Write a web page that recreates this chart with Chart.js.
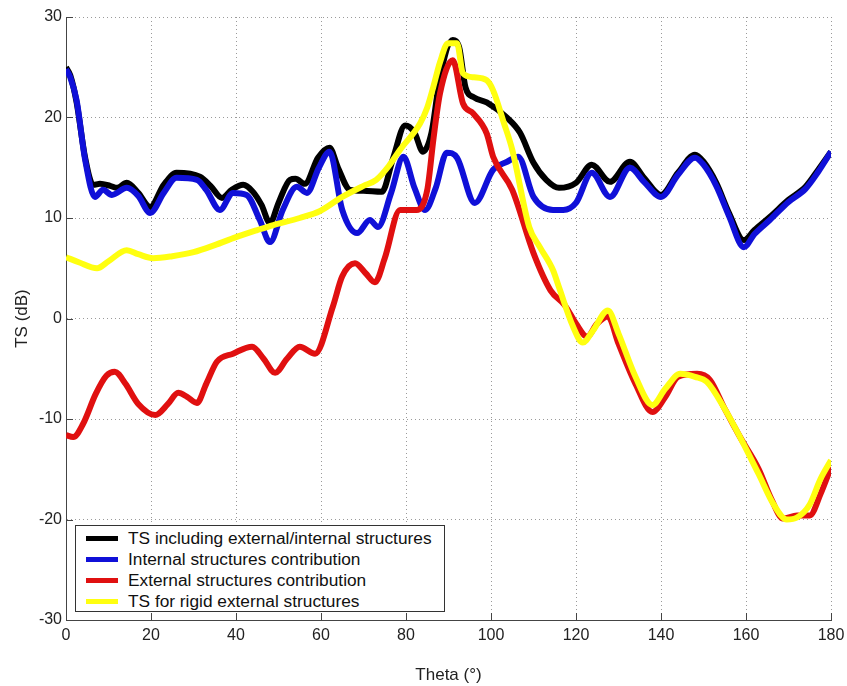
<!DOCTYPE html>
<html>
<head>
<meta charset="utf-8">
<script src="https://cdn.jsdelivr.net/npm/chart.js@4/dist/chart.umd.min.js"></script>
<style>
  html, body { margin: 0; padding: 0; background: #fff; }
  #wrap { position: relative; width: 847px; height: 686px; }
  #legend {
    position: absolute; left: 75px; top: 525px; width: 370px; height: 87px;
    border: 1px solid #333; background: #fff; box-sizing: border-box;
    padding-top: 2px; font-family: "Liberation Sans", Arial, sans-serif; font-size: 17.3px; color: #111;
  }
  .row { position: relative; height: 21px; line-height: 21px; padding-left: 52px; white-space: nowrap; }
  .sw { position: absolute; left: 10px; top: 8px; width: 32px; height: 5px; }
</style>
</head>
<body>
<div id="wrap">
  <canvas id="c" width="847" height="686"></canvas>
  <div id="legend"></div>
</div>
<script>
// ---- Data ----
const seriesNames = [
  "TS including external/internal structures",
  "Internal structures contribution",
  "External structures contribution",
  "TS for rigid external structures"
];
const seriesColors = ["#000000", "#1010d8", "#e01010", "#ffff10"];

const blackTheta = [0,1,2.5,4.5,6.4,8,10.4,12,14.3,17,19.8,23,26,31.5,34,36.7,39,41.7,44,46,48,50,52.7,54,56.2,59.3,62,64,66.8,70,74.3,77,79.8,82,84,86,88,91,92.5,94,96,99,103.7,106.8,110,113,116,120,123.7,128,132.7,136,140,144,148,150,153,156,159.5,162,165.6,170,174,177,180];
const blackTS    = [25,24.2,21.5,16,13.3,13.4,13.2,13.0,13.5,12.5,11.1,13.3,14.5,14.1,13.2,12.0,12.8,13.3,12.6,11.3,9.5,11.5,13.8,13.9,13.4,16.0,17.0,15,12.8,12.7,12.6,16,19.2,18.5,16.6,18.5,24,27.7,27,23,22,21.5,20,18.5,15.5,13.8,13.0,13.5,15.3,13.6,15.6,14,12.3,14.5,16.3,15.6,13.5,10.5,7.8,8.8,10.1,11.8,13.1,14.8,16.6];

const blueTheta = [0,1,2.5,4.5,6.8,8.7,10.8,14.3,17,19.8,23,26,30.8,33,36.2,39.3,42.5,45.6,48,51,54.3,56.7,59.5,62,65,68.5,71.5,73.4,76.5,79.4,82,84.5,87,89.6,92,96.2,100.5,103.8,106.4,110,114.6,117,120,123.7,128,132.7,136,140,144,148,150,153,156,159.5,162,165.6,170,174,177,180];
const blueTS    = [24.8,24,21.7,15.8,12.1,12.8,12.3,13.0,12.2,10.5,12.5,14.0,13.8,12.8,10.8,12.5,12.3,9.8,7.6,10.8,13.1,12.5,15,16.6,10.8,8.5,9.8,9.1,12.5,16.1,13,10.8,13,16.5,16,11.5,14.8,15.6,16.1,12.1,10.8,10.8,11.5,14.5,12.1,15.0,13.6,12.1,14.3,16.0,15.3,13.2,10.2,7.1,8.4,9.8,11.6,12.9,14.6,16.6];

const redTheta = [0,1.7,4,7,9.5,11.5,14,17,21,24,26.4,28.5,30.8,33,35.5,39.3,43.8,46.5,49.2,52,55,58.6,62.8,65,68,70.5,72.7,75,78.6,82.5,85,86.5,88,91,93.4,95.8,99,100.5,105,110,114,117.4,120,122.6,125,127.5,130,134,138,141,144,148.5,151.5,155,158.6,163,166,168.7,172,175,177.5,180];
const redTS    = [-11.6,-11.8,-10.5,-7.5,-5.7,-5.3,-6.5,-8.5,-9.6,-8.5,-7.4,-7.8,-8.4,-6.5,-4.3,-3.5,-2.8,-4,-5.4,-4,-2.8,-3.5,1.2,4.2,5.5,4.5,3.6,6,10.8,10.8,12.8,18,22.4,25.7,21.4,20.4,18.4,16.1,12.8,6.5,2.8,1.3,-0.5,-1.8,-0.5,0.2,-2.5,-6.5,-9.3,-7.8,-5.8,-5.5,-6.1,-9,-11.8,-15,-18,-19.9,-19.6,-19.6,-17.5,-14.8];

const yellowTheta = [0,3,7.3,10,14.3,17,20.5,25,30,35,40,45,48.8,55,59.8,65,70,73,76,78.6,83.3,85,86.4,88,89.9,92,93.4,96,99,100.5,103,105,109,111.5,114.6,116,119.3,121.6,124,127.5,130,134,138,141,144.5,148,150.8,155,158.6,163,166.5,169.6,172,175,177.5,180];
const yellowTS    = [6.1,5.6,5.0,5.7,6.8,6.4,6.0,6.2,6.6,7.3,8.1,8.8,9.3,10.0,10.7,12.1,13.2,13.8,15.2,16.8,19.4,21,23,25.5,27.4,27.4,24.4,24,23.7,22.7,19.5,16.8,9.1,7.1,4.8,3.1,-0.8,-2.4,-1.2,0.8,-1.5,-5.8,-8.6,-7,-5.5,-5.8,-6.3,-9,-11.8,-15.5,-18.5,-20,-19.8,-18.5,-16,-14.1];

const xTicks = [0,20,40,60,80,100,120,140,160,180];
const yTicks = [-30,-20,-10,0,10,20,30];

// ---- Build chart ----
function pts(xs, ys) { return xs.map((x, i) => ({ x: x, y: ys[i] })); }
const allX = [blackTheta, blueTheta, redTheta, yellowTheta];
const allY = [blackTS, blueTS, redTS, yellowTS];

const datasets = seriesNames.map((name, i) => ({
  label: name,
  data: pts(allX[i], allY[i]),
  borderColor: seriesColors[i],
  backgroundColor: seriesColors[i],
  borderWidth: 6,
  pointRadius: 0,
  cubicInterpolationMode: 'monotone',
  fill: false,
  order: 4 - i
}));

const FONT = '"Liberation Sans", Arial, sans-serif';

const inwardTicks = {
  id: 'inwardTicks',
  afterDatasetsDraw(chart) {
    const { ctx, chartArea: a, scales: { x, y } } = chart;
    ctx.save();
    ctx.strokeStyle = '#444';
    ctx.lineWidth = 1;
    ctx.beginPath();
    xTicks.forEach(v => {
      const px = Math.round(x.getPixelForValue(v)) + 0.5;
      ctx.moveTo(px, a.bottom); ctx.lineTo(px, a.bottom - 7);
    });
    yTicks.forEach(v => {
      const py = Math.round(y.getPixelForValue(v)) + 0.5;
      ctx.moveTo(a.left, py); ctx.lineTo(a.left + 7, py);
    });
    ctx.stroke();
    ctx.restore();
  }
};

new Chart(document.getElementById('c'), {
  type: 'line',
  data: { datasets },
  options: {
    responsive: false,
    animation: false,
    layout: { padding: { top: 17, right: 16, left: 0, bottom: 0 } },
    plugins: { legend: { display: false }, tooltip: { enabled: false } },
    scales: {
      x: {
        type: 'linear', min: 0, max: 180,
        afterBuildTicks(s) { s.ticks = xTicks.map(v => ({ value: v })); },
        afterFit(s) { s.height = 66; s.paddingRight = 0; s.paddingLeft = 0; },
        ticks: { color: '#222', font: { family: FONT, size: 16 }, padding: 6, maxRotation: 0 },
        grid: { color: '#9a9a9a', lineWidth: 1, drawTicks: false },
        border: { display: true, color: '#444', width: 1, dash: [1, 3] },
        title: { display: true, text: 'Theta (°)', color: '#222', font: { family: FONT, size: 17 }, padding: { top: 0, bottom: 0 } }
      },
      y: {
        type: 'linear', min: -30, max: 30,
        afterBuildTicks(s) { s.ticks = yTicks.map(v => ({ value: v })); },
        afterFit(s) { s.width = 66; s.paddingTop = 0; s.paddingBottom = 0; },
        ticks: { color: '#222', font: { family: FONT, size: 16 }, padding: 4 },
        grid: { color: '#9a9a9a', lineWidth: 1, drawTicks: false },
        border: { display: true, color: '#444', width: 1, dash: [1, 3] },
        title: { display: true, text: 'TS (dB)', color: '#222', font: { family: FONT, size: 17 }, padding: { top: 12, bottom: 0 } }
      }
    }
  },
  plugins: [inwardTicks]
});

// ---- HTML legend ----
const lg = document.getElementById('legend');
seriesNames.forEach((name, i) => {
  const r = document.createElement('div');
  r.className = 'row';
  const sw = document.createElement('span');
  sw.className = 'sw';
  sw.style.background = seriesColors[i];
  r.appendChild(sw);
  r.appendChild(document.createTextNode(name));
  lg.appendChild(r);
});
</script>
</body>
</html>
